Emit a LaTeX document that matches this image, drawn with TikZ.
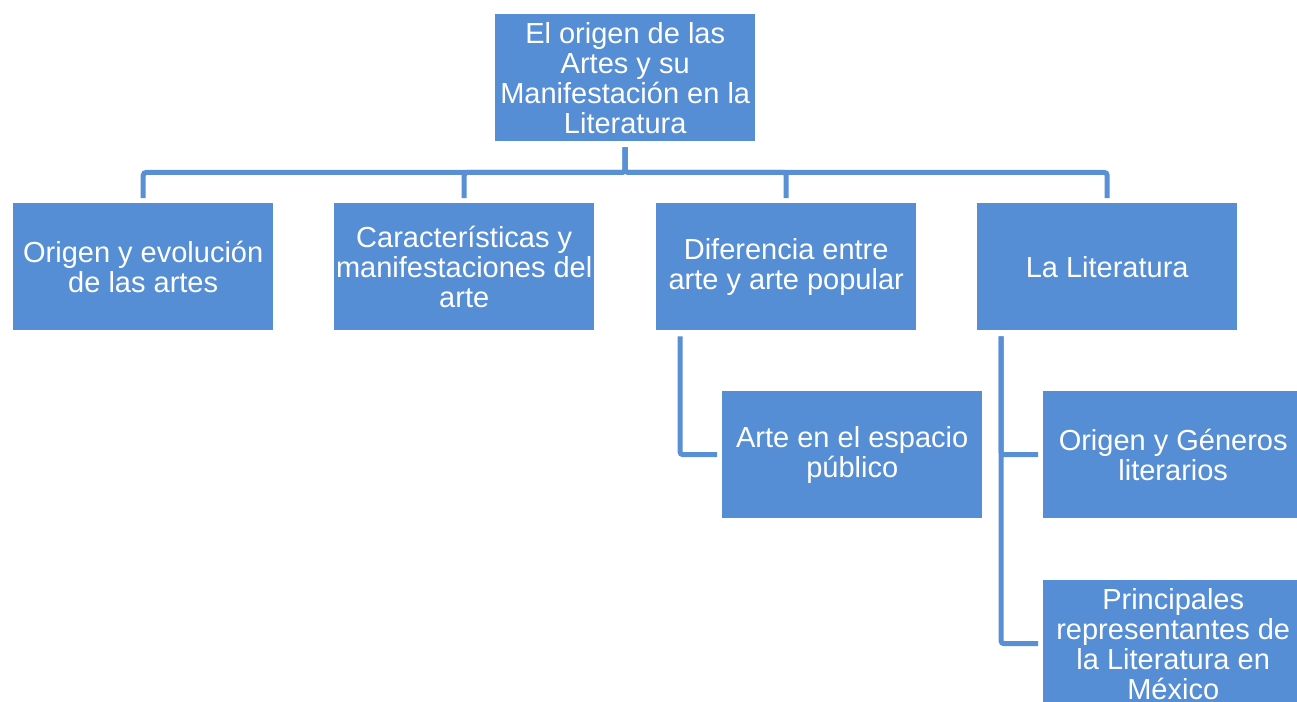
\documentclass[tikz,border=0pt]{standalone}
\usepackage{fontspec}
\setmainfont{Liberation Sans}
\usetikzlibrary{calc}
\definecolor{boxblue}{RGB}{85,142,213}
\definecolor{lineblue}{RGB}{88,143,213}
\tikzset{
  box/.style={fill=boxblue, text=white, anchor=north west, minimum width=260pt, minimum height=127pt,
    inner sep=0pt, align=center, font=\fontsize{29}{30}\selectfont},
  conn/.style={draw=lineblue, line width=5pt, rounded corners=3pt, shorten <=6pt, shorten >=5pt}
}
\begin{document}
\begin{tikzpicture}[x=1pt,y=-1pt]
\useasboundingbox (0,0) rectangle (1297,701);
\clip (0,0) rectangle (1297,701);
\node[box] (top) at (495,14) {El origen de las\\Artes y su\\Manifestación en la\\Literatura};
\node[box] (b1) at (13,203) {Origen y evolución\\de las artes};
\node[box] (b2) at (334,203) {Características y\\manifestaciones del\\arte};
\node[box] (b3) at (656,203) {Diferencia entre\\arte y arte popular};
\node[box] (b4) at (977,203) {La Literatura};
\node[box] (c1) at (722,391) {Arte en el espacio\\público};
\node[box] (c2) at (1043,391) {Origen y Géneros\\literarios};
\node[box] (c3) at (1043,580) {Principales\\representantes de\\la Literatura en\\México};
\draw[conn] (top.south) -- ++(0,31) -| (b1.north);
\draw[conn] (top.south) -- ++(0,31) -| (b2.north);
\draw[conn] (top.south) -- ++(0,31) -| (b3.north);
\draw[conn] (top.south) -- ++(0,31) -| (b4.north);
\draw[conn] ($(b3.south west)+(24,0)$) |- (c1.west);
\draw[conn] ($(b4.south west)+(24,0)$) |- (c2.west);
\draw[conn] ($(b4.south west)+(24,0)$) |- (c3.west);
\end{tikzpicture}
\end{document}
